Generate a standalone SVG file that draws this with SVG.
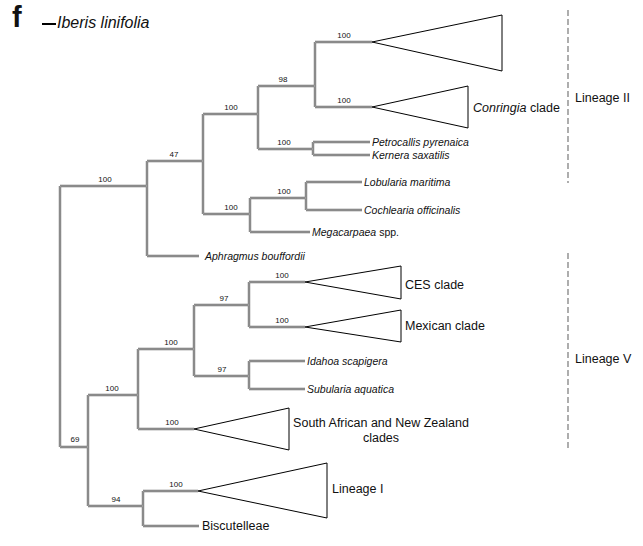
<svg xmlns="http://www.w3.org/2000/svg" xmlns:xlink="http://www.w3.org/1999/xlink" width="643" height="546" viewBox="0 0 643 546">
<style>
text{font-family:"Liberation Sans",Arial,sans-serif;fill:#111}
.bs{font-size:8px;text-anchor:middle}
.tx{font-size:10.5px;font-style:italic}
.lg{font-size:12.5px}
.it{font-style:italic}
.outer{fill:none;stroke:#6f6f6f;stroke-width:2.4}
.inner{fill:none;stroke:#bdbdbd;stroke-width:0.7}
.tri{fill:#fff;stroke:#000;stroke-width:1}
.dash{stroke:#9a9a9a;stroke-width:1.6;stroke-dasharray:6 3}
</style>
<defs>
<path id="tree" d="M60,186V447 M60,186H147 M147,161V256 M147,161H203 M147,256H199 M203,114V214 M203,114H258 M203,214H250 M258,86V149 M258,86H315 M258,149H313 M315,42V107 M315,42H372 M315,107H372 M313,142V155 M313,142H370 M313,155H370 M250,198V232 M250,198H306 M250,232H310 M306,182V210 M306,182H362 M306,210H362 M60,447H88 M88,395V506 M88,395H138 M88,506H143 M138,349V429 M138,349H194 M138,429H194 M194,305V376 M194,305H249 M194,376H249 M249,282V327 M249,282H305 M249,327H305 M249,361V389 M249,361H305 M249,389H305 M143,491V526 M143,491H198 M143,526H199"/>
</defs>
<g id="title">
<text x="12" y="27" style="font-size:29px;font-weight:bold">f</text>
<line x1="42" y1="24" x2="56" y2="24" stroke="#000" stroke-width="2"/>
<text x="57" y="28" style="font-size:16px;font-style:italic">Iberis linifolia</text>
</g>
<g id="connectors">
<use xlink:href="#tree" href="#tree" class="outer"/>
<use xlink:href="#tree" href="#tree" class="inner"/>
</g>
<g id="bootstrap">
<text class="bs" x="105" y="181.5">100</text>
<text class="bs" x="174" y="156.5">47</text>
<text class="bs" x="231" y="109.5">100</text>
<text class="bs" x="231" y="209.5">100</text>
<text class="bs" x="283" y="81.5">98</text>
<text class="bs" x="284" y="144.5">100</text>
<text class="bs" x="344" y="37.5">100</text>
<text class="bs" x="344" y="102.5">100</text>
<text class="bs" x="284" y="193.5">100</text>
<text class="bs" x="75" y="441.5">69</text>
<text class="bs" x="112" y="390.5">100</text>
<text class="bs" x="116" y="501.5">94</text>
<text class="bs" x="171" y="344.5">100</text>
<text class="bs" x="172" y="424.5">100</text>
<text class="bs" x="224" y="300.5">97</text>
<text class="bs" x="222" y="371.5">97</text>
<text class="bs" x="282" y="277.5">100</text>
<text class="bs" x="282" y="322.5">100</text>
<text class="bs" x="176" y="486.5">100</text>
</g>
<g id="clade-top"><polygon class="tri" points="372,42 502,15 502,71"/></g>
<g id="clade-conringia"><polygon class="tri" points="372,107 468,86 468,128"/><text class="lg" x="473" y="111.5"><tspan class="it">Conringia</tspan> clade</text></g>
<g id="taxon-petrocallis"><text class="tx" x="372" y="145.5">Petrocallis pyrenaica</text></g>
<g id="taxon-kernera"><text class="tx" x="372" y="158.5">Kernera saxatilis</text></g>
<g id="taxon-lobularia"><text class="tx" x="364" y="185.5">Lobularia maritima</text></g>
<g id="taxon-cochlearia"><text class="tx" x="364" y="213.5">Cochlearia officinalis</text></g>
<g id="taxon-megacarpaea"><text class="tx" x="312" y="235.5">Megacarpaea<tspan style="font-style:normal"> spp.</tspan></text></g>
<g id="taxon-aphragmus"><text class="tx" x="205" y="259.5">Aphragmus bouffordii</text></g>
<g id="clade-ces"><polygon class="tri" points="305,282 401,266 401,299"/><text class="lg" x="405" y="288.5">CES clade</text></g>
<g id="clade-mexican"><polygon class="tri" points="305,327 401,310 401,342"/><text class="lg" x="405" y="329.5">Mexican clade</text></g>
<g id="taxon-idahoa"><text class="tx" x="307" y="364.5">Idahoa scapigera</text></g>
<g id="taxon-subularia"><text class="tx" x="307" y="392.5">Subularia aquatica</text></g>
<g id="clade-southafrican"><polygon class="tri" points="194,429 289,408 289,450"/><text class="lg" x="381" y="427" text-anchor="middle">South African and New Zealand</text><text class="lg" x="381" y="442" text-anchor="middle">clades</text></g>
<g id="clade-lineage1"><polygon class="tri" points="198,491 327,463 327,518"/><text class="lg" x="332" y="492.5">Lineage I</text></g>
<g id="taxon-biscutelleae"><text class="lg" x="202" y="530">Biscutelleae</text></g>
<g id="lineage-II"><line class="dash" x1="568" y1="10" x2="568" y2="183"/><text class="lg" x="575" y="101.5">Lineage II</text></g>
<g id="lineage-V"><line class="dash" x1="568" y1="253" x2="568" y2="448"/><text class="lg" x="575" y="362.5">Lineage V</text></g>
</svg>
